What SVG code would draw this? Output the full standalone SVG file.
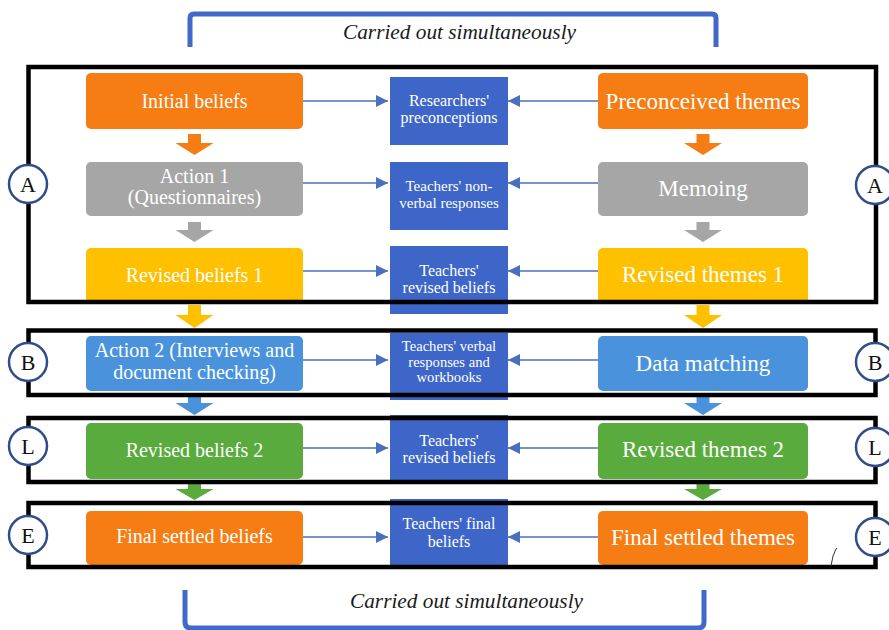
<svg xmlns="http://www.w3.org/2000/svg" width="889" height="630" viewBox="0 0 889 630">
<defs>
<marker id="ah" viewBox="0 0 12 12" refX="12" refY="6" markerWidth="12" markerHeight="12" markerUnits="userSpaceOnUse" orient="auto">
<path d="M0,0 L12,6 L0,12 z" fill="#4a6fc0"/>
</marker>
<style>
.box{stroke:none}
.or{fill:#f67c14}.gr{fill:#a6a6a6}.ye{fill:#ffc000}.lb{fill:#4a93dc}.gn{fill:#58ab3c}.db{fill:#3e66c8}
.t{font-family:"Liberation Serif","Times New Roman",serif;fill:#ffffff;text-anchor:middle}
.l{font-size:20px}.r{font-size:23px}.m{font-size:16px}.s{font-size:15px}.s2{font-size:14.6px}
.it{font-family:"Liberation Serif","Times New Roman",serif;font-style:italic;font-size:20px;fill:#1a1a1a;text-anchor:middle}
.cn{stroke:#4a6fc0;stroke-width:1.3;fill:none;marker-end:url(#ah)}
.fr{fill:none;stroke:#000;stroke-width:4.5}
.br{fill:none;stroke:#4169c9;stroke-width:5;stroke-linejoin:round}
.ci{fill:#fff;stroke:#2f4c8c;stroke-width:2.5}
.ct{font-family:"Liberation Serif","Times New Roman",serif;font-size:22px;fill:#111;text-anchor:middle}
</style>
</defs>
<rect width="889" height="630" fill="#ffffff"/>

<g id="bracket-top">
<path class="br" d="M190,47 V18 Q190,14 194,14 H712 Q716,14 716,18 V47"/>
<text class="it" x="459.5" y="39" textLength="233" lengthAdjust="spacingAndGlyphs">Carried out simultaneously</text>
</g>
<g id="bracket-bottom">
<path class="br" d="M185,590 V622 Q185,628 191,628 H698 Q704,628 704,622 V590"/>
<text class="it" x="466.5" y="608" textLength="233" lengthAdjust="spacingAndGlyphs">Carried out simultaneously</text>
</g>

<g id="block-arrows">
<path class="or" d="M188,134 h13 v9 h12.5 l-19,12 l-19,-12 h12.5 z"/>
<path class="or" d="M696.5,134 h13 v9 h12.5 l-19,12 l-19,-12 h12.5 z"/>
<path class="gr" d="M188,222 h13 v8 h12.5 l-19,12 l-19,-12 h12.5 z"/>
<path class="gr" d="M696.5,222 h13 v8 h12.5 l-19,12 l-19,-12 h12.5 z"/>
<path class="ye" d="M188,305 h13 v10 h12.5 l-19,13 l-19,-13 h12.5 z"/>
<path class="ye" d="M696.5,305 h13 v10 h12.5 l-19,13 l-19,-13 h12.5 z"/>
<path class="lb" d="M188,397 h13 v6 h12.5 l-19,12 l-19,-12 h12.5 z"/>
<path class="lb" d="M696.5,397 h13 v6 h12.5 l-19,12 l-19,-12 h12.5 z"/>
<path class="gn" d="M188,484 h13 v5 h12.5 l-19,11 l-19,-11 h12.5 z"/>
<path class="gn" d="M696.5,484 h13 v5 h12.5 l-19,11 l-19,-11 h12.5 z"/>
</g>

<g id="initial-beliefs"><rect class="box or" x="86" y="73" width="217" height="56" rx="5"/><text class="t l" x="194.5" y="108">Initial beliefs</text></g>
<g id="researchers-preconceptions"><rect class="box db" x="390" y="77" width="118" height="68"/><text class="t m" x="449" y="106">Researchers'</text><text class="t m" x="449" y="123">preconceptions</text></g>
<g id="preconceived-themes"><rect class="box or" x="598" y="73" width="210" height="56" rx="5"/><text class="t r" x="703" y="109">Preconceived themes</text></g>

<g id="action-1"><rect class="box gr" x="86" y="162" width="217" height="54" rx="5"/><text class="t l" x="194.5" y="183">Action 1</text><text class="t l" x="194.5" y="204">(Questionnaires)</text></g>
<g id="teachers-nonverbal"><rect class="box db" x="390" y="162" width="118" height="68"/><text class="t s" x="449" y="191">Teachers' non-</text><text class="t s" x="449" y="208">verbal responses</text></g>
<g id="memoing"><rect class="box gr" x="598" y="162" width="210" height="54" rx="5"/><text class="t r" x="703" y="196">Memoing</text></g>

<g id="revised-beliefs-1"><rect class="box ye" x="86" y="248" width="217" height="56" rx="5"/><text class="t l" x="194.5" y="282">Revised beliefs 1</text></g>
<g id="teachers-revised-1"><rect class="box db" x="390" y="246" width="118" height="68"/><text class="t m" x="449" y="276">Teachers'</text><text class="t m" x="449" y="293">revised beliefs</text></g>
<g id="revised-themes-1"><rect class="box ye" x="598" y="248" width="210" height="56" rx="5"/><text class="t r" x="703" y="282">Revised themes 1</text></g>

<g id="action-2"><rect class="box lb" x="86" y="336" width="217" height="55" rx="5"/><text class="t l" x="194.5" y="357">Action 2 (Interviews and</text><text class="t l" x="194.5" y="379">document checking)</text></g>
<g id="teachers-verbal"><rect class="box db" x="390" y="333" width="118" height="67"/><text class="t s2" x="449" y="351">Teachers' verbal</text><text class="t s2" x="449" y="366.5">responses and</text><text class="t s2" x="449" y="382">workbooks</text></g>
<g id="data-matching"><rect class="box lb" x="598" y="336" width="210" height="55" rx="5"/><text class="t r" x="703" y="371">Data matching</text></g>

<g id="revised-beliefs-2"><rect class="box gn" x="86" y="423" width="217" height="56" rx="5"/><text class="t l" x="194.5" y="457">Revised beliefs 2</text></g>
<g id="teachers-revised-2"><rect class="box db" x="390" y="415" width="118" height="68"/><text class="t m" x="449" y="446">Teachers'</text><text class="t m" x="449" y="463">revised beliefs</text></g>
<g id="revised-themes-2"><rect class="box gn" x="598" y="423" width="210" height="56" rx="5"/><text class="t r" x="703" y="457">Revised themes 2</text></g>

<g id="final-settled-beliefs"><rect class="box or" x="86" y="511" width="217" height="54" rx="5"/><text class="t l" x="194.5" y="543">Final settled beliefs</text></g>
<g id="teachers-final"><rect class="box db" x="390" y="499" width="118" height="67"/><text class="t m" x="449" y="529">Teachers' final</text><text class="t m" x="449" y="547">beliefs</text></g>
<g id="final-settled-themes"><rect class="box or" x="598" y="511" width="210" height="54" rx="5"/><text class="t r" x="703" y="545">Final settled themes</text></g>

<g id="connectors">
<line class="cn" x1="303" y1="101" x2="388" y2="101"/>
<line class="cn" x1="598" y1="101" x2="508" y2="101"/>
<line class="cn" x1="303" y1="183" x2="388" y2="183"/>
<line class="cn" x1="598" y1="183" x2="508" y2="183"/>
<line class="cn" x1="303" y1="271" x2="388" y2="271"/>
<line class="cn" x1="598" y1="271" x2="508" y2="271"/>
<line class="cn" x1="303" y1="360" x2="388" y2="360"/>
<line class="cn" x1="598" y1="360" x2="508" y2="360"/>
<line class="cn" x1="303" y1="448" x2="388" y2="448"/>
<line class="cn" x1="598" y1="448" x2="508" y2="448"/>
<line class="cn" x1="303" y1="537" x2="388" y2="537"/>
<line class="cn" x1="598" y1="537" x2="508" y2="537"/>
</g>

<g id="frames">
<rect class="fr" x="28.5" y="67" width="847.5" height="235"/>
<rect class="fr" x="28.5" y="330.5" width="847" height="64.5"/>
<rect class="fr" x="28.5" y="418" width="847" height="64"/>
<rect class="fr" x="28.5" y="503" width="847" height="64"/>
</g>

<g id="stage-A-left"><circle class="ci" cx="28" cy="184" r="19"/><text class="ct" x="28" y="192">A</text></g>
<g id="stage-A-right"><circle class="ci" cx="875" cy="185" r="19"/><text class="ct" x="875" y="193">A</text></g>
<g id="stage-B-left"><circle class="ci" cx="28" cy="362" r="19"/><text class="ct" x="28" y="370">B</text></g>
<g id="stage-B-right"><circle class="ci" cx="875" cy="362" r="19"/><text class="ct" x="875" y="370">B</text></g>
<g id="stage-L-left"><circle class="ci" cx="28" cy="446" r="19"/><text class="ct" x="28" y="454">L</text></g>
<g id="stage-L-right"><circle class="ci" cx="875" cy="447" r="19"/><text class="ct" x="875" y="455">L</text></g>
<g id="stage-E-left"><circle class="ci" cx="28" cy="535" r="19"/><text class="ct" x="28" y="543">E</text></g>
<g id="stage-E-right"><circle class="ci" cx="875" cy="537" r="19"/><text class="ct" x="875" y="545">E</text></g>

<path d="M831,566 L833,556 L836,549 L837,548" fill="none" stroke="#333" stroke-width="1"/>
</svg>
